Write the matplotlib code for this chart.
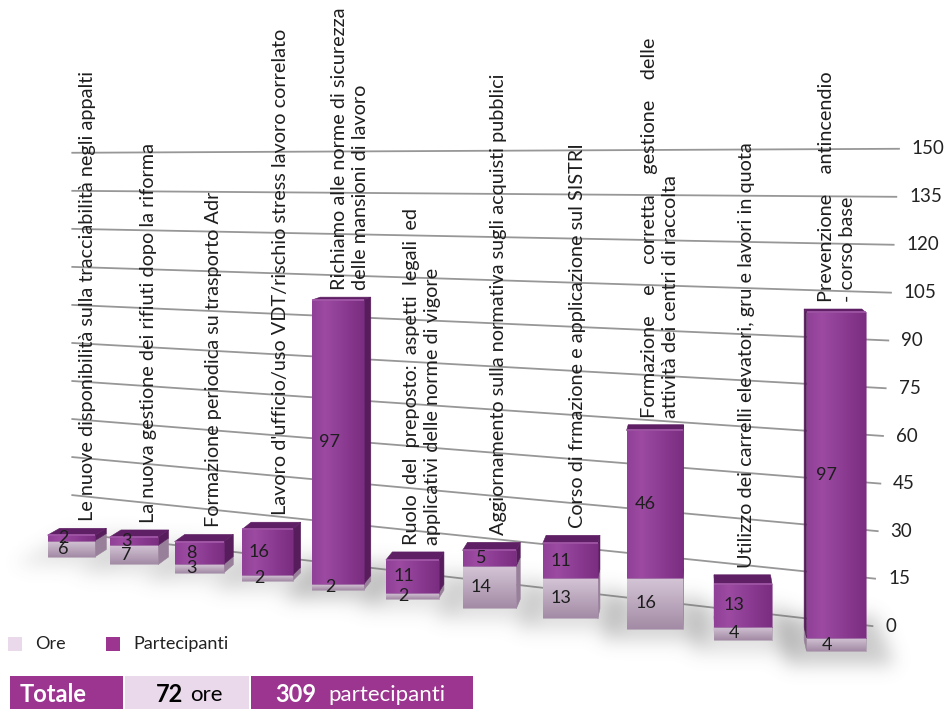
import numpy as np
import matplotlib
matplotlib.use('Agg')
import matplotlib.pyplot as plt
from matplotlib.patches import Polygon, Rectangle
from matplotlib.path import Path

plt.rcParams['font.family'] = ['Lato', 'DejaVu Sans']

# dati dei corsi
corsi = [
    "Le nuove disponibilità sulla tracciabilità negli appalti",
    "La nuova gestione dei rifiuti dopo la riforma",
    "Formazione periodica su trasporto Adr",
    "Lavoro d'ufficio/uso VDT/rischio stress lavoro correlato",
    "Richiamo alle norme di sicurezza\ndelle mansioni di lavoro",
    "Ruolo  del  preposto:  aspetti  legali  ed\napplicativi delle norme di vigore",
    "Aggiornamento sulla normativa sugli acquisti pubblici",
    "Corso di frmazione e applicazione sul SISTRI",
    "Formazione    e    corretta    gestione    delle\nattività dei centri di raccolta",
    "Utilizzo dei carrelli elevatori, gru e lavori in quota",
    "Prevenzione    antincendio\n- corso base",
]
ore = [6, 7, 3, 2, 2, 2, 14, 13, 16, 4, 4]
partecipanti = [2, 3, 8, 16, 97, 11, 5, 11, 46, 13, 97]
tick_valori = list(range(0, 151, 15))
totale_ore = "72"
totale_partecipanti = "309"

# colori
VIOLA_FRONTE = ("#9c4aa2", "#7a2d81")
VIOLA_TOP = "#5e1f64"
VIOLA_LATO = "#561c5b"
ORE_FRONTE = ("#d5c6d7", "#a38ba5")
ORE_LATO = "#98809a"
MAGENTA = "#9c3590"
LILLA = "#ead9ea"
GRIGLIA = "#979797"

# vista prospettica
W, H = 949, 709
CAM_X, CAM_Y, CAM_V = 11.58, -11.0, 144.0
YAW = np.radians(-15.56)
FOC = 1050.0
CX, CY = 700.0, 168.0
ZSCALE = 0.03523
BAR_W, BAR_D = 0.62, 0.26
WALL_Y = 0.714
WALL_X0 = -0.75
ASSE_X = (10.31, 10.60)   # estremo destro della griglia a 0 e a 150

COS, SIN = np.cos(YAW), np.sin(YAW)
DESTRA = np.array([COS, -SIN])    # asse laterale della camera sul piano
AVANTI = np.array([SIN, COS])     # asse di profondità della camera sul piano


def camera(X, Y, V):
    X = np.asarray(X, float)
    Y = np.asarray(Y, float)
    Z = np.asarray(V, float) * ZSCALE
    dx, dy, dz = X - CAM_X, Y - CAM_Y, Z - CAM_V * ZSCALE
    u = dx * COS - dy * SIN
    w = dx * SIN + dy * COS
    return u, w, dz


def proietta(X, Y, V):
    u, w, v = camera(X, Y, V)
    return CX + FOC * u / w, CY - FOC * v / w


def quad(pts):
    xs, ys = proietta(*np.array(pts).T)
    return np.column_stack([xs, ys])


fig = plt.figure(figsize=(W / 100, H / 100), dpi=100)
ax = fig.add_axes([0, 0, 1, 1])
ax.axis('off')

z = [10]


def faccia(poly, colore):
    z[0] += 1
    ax.add_patch(Polygon(poly, closed=True, facecolor=colore, edgecolor=colore,
                         lw=0.4, zorder=z[0]))


def faccia_sfumata(poly, c1, c2, verticale=True):
    z[0] += 1
    p = Polygon(poly, closed=True, facecolor='none', edgecolor=c2, lw=0.4,
                zorder=z[0])
    ax.add_patch(p)
    a = np.array(matplotlib.colors.to_rgb(c1))
    b = np.array(matplotlib.colors.to_rgb(c2))
    t = np.linspace(0, 1, 64)
    if verticale:
        img = (1 - t[:, None, None]) * a + t[:, None, None] * b
    else:
        # riflesso chiaro a sinistra, più scuro verso destra
        t = np.clip(np.abs(t - 0.25) / 0.75, 0, 1)
        img = ((1 - t[:, None]) * a + t[:, None] * b)[None, :, :]
    x0, y0 = poly.min(axis=0)
    x1, y1 = poly.max(axis=0)
    im = ax.imshow(img, extent=(x0, x1, y1, y0), aspect='auto',
                   interpolation='bilinear', zorder=z[0])
    im.set_clip_path(p)


def angolo(i, lat, prof, v):
    # punto della barra i: lat lungo l'asse laterale, prof in profondità
    px, py = np.array([i, 0.0]) + lat * DESTRA + prof * AVANTI
    return (px, py, v)


# griglia sulla parete di fondo
for v in tick_valori:
    x_fine = ASSE_X[0] + (ASSE_X[1] - ASSE_X[0]) * v / tick_valori[-1]
    xs, ys = proietta([WALL_X0, x_fine], [WALL_Y, WALL_Y], [v, v])
    ax.plot(xs, ys, color=GRIGLIA, lw=1.3, zorder=2, solid_capstyle='butt')
    ax.text(xs[1] + 12, ys[1], str(v), fontsize=13.5, color='#222222',
            ha='left', va='center', zorder=3)

# ombra morbida sul pavimento
yy, xx = np.mgrid[0:H, 0:W] + 0.5
griglia_px = np.column_stack([xx.ravel(), yy.ravel()])
ombra = np.zeros(H * W)
for i in range(len(corsi)):
    tot = ore[i] + partecipanti[i]
    forza = 0.35 + 0.35 * min(tot / 100.0, 1.0)
    h = BAR_W / 2 + 0.25
    impronta = quad([angolo(i, -h, -0.3, 0), angolo(i, h, -0.3, 0),
                     angolo(i, h, BAR_D + 0.6, 0), angolo(i, -h, BAR_D + 0.6, 0)])
    ombra += Path(impronta).contains_points(griglia_px) * forza
ombra = ombra.reshape(H, W)


def sfoca(a, sigma):
    r = int(3 * sigma)
    k = np.exp(-0.5 * (np.arange(-r, r + 1) / sigma) ** 2)
    k /= k.sum()
    a = np.apply_along_axis(lambda m: np.convolve(m, k, mode='same'), 0, a)
    a = np.apply_along_axis(lambda m: np.convolve(m, k, mode='same'), 1, a)
    return a


ombra = np.clip(sfoca(ombra, 9), 0, 1)
rgba = np.zeros((H, W, 4))
rgba[..., :3] = 0.42
rgba[..., 3] = ombra * 0.5
ax.imshow(rgba, extent=(0, W, H, 0), zorder=5, interpolation='bilinear')

# barre: dalla più lontana alla più vicina
distanza = [camera(i, 0, 0)[1] for i in range(len(corsi))]
ordine = sorted(range(len(corsi)), key=lambda i: -distanza[i])
a = BAR_W / 2
for i in ordine:
    u_centro = camera(i, 0, 0)[0]
    segmenti = [(0, ore[i], ORE_FRONTE, ORE_LATO, None, True),
                (ore[i], ore[i] + partecipanti[i], VIOLA_FRONTE, VIOLA_LATO, VIOLA_TOP, False)]
    for v0, v1, fronte, lato, top, vert in segmenti:
        if u_centro + a < 0:
            faccia(quad([angolo(i, a, 0, v0), angolo(i, a, BAR_D, v0),
                         angolo(i, a, BAR_D, v1), angolo(i, a, 0, v1)]), lato)
        elif u_centro - a > 0:
            faccia(quad([angolo(i, -a, 0, v0), angolo(i, -a, BAR_D, v0),
                         angolo(i, -a, BAR_D, v1), angolo(i, -a, 0, v1)]), lato)
        faccia_sfumata(quad([angolo(i, -a, 0, v1), angolo(i, a, 0, v1),
                             angolo(i, a, 0, v0), angolo(i, -a, 0, v0)]),
                       fronte[0], fronte[1], vert)
        if top is not None:
            faccia(quad([angolo(i, -a, 0, v1), angolo(i, a, 0, v1),
                         angolo(i, a, BAR_D, v1), angolo(i, -a, BAR_D, v1)]), top)
            # spigolo smussato tra faccia superiore e frontale
            spigolo = quad([angolo(i, -a, 0, v1), angolo(i, a, 0, v1)])
            z[0] += 1
            ax.plot(spigolo[:, 0], spigolo[:, 1], color='#a65aab', lw=1.2,
                    zorder=z[0], solid_capstyle='butt')

    # etichette dei valori
    for v0, val in [(0, ore[i]), (ore[i], partecipanti[i])]:
        lx, ly = proietta(*angolo(i, -0.1, 0, v0 + val / 2))
        ax.text(lx, ly, str(val), fontsize=13, color='#1e1e1e', ha='center',
                va='center', zorder=100)

    # nome del corso sopra la barra
    tx, ty = proietta(*angolo(i, 0, BAR_D, ore[i] + partecipanti[i]))
    ax.annotate(corsi[i], (tx, ty), xytext=(3, 5), textcoords='offset points',
                rotation=90, rotation_mode='anchor', ha='left', va='center',
                multialignment='left', fontsize=14.3, color='#1e1e1e',
                linespacing=1.3, zorder=100)

# legenda
ax.add_patch(Rectangle((8, 637), 14, 14, facecolor=LILLA, edgecolor='none', zorder=100))
ax.text(35, 644, "Ore", fontsize=13, ha='left', va='center', color='#222222')
ax.add_patch(Rectangle((106, 637), 14, 14, facecolor=MAGENTA, edgecolor='none', zorder=100))
ax.text(133, 644, "Partecipanti", fontsize=13, ha='left', va='center', color='#222222')

# riga dei totali
ax.add_patch(Rectangle((10, 676), 113, 40, facecolor=MAGENTA, edgecolor='none', zorder=100))
ax.add_patch(Rectangle((125, 676), 124, 40, facecolor=LILLA, edgecolor='none', zorder=100))
ax.add_patch(Rectangle((251, 676), 222, 40, facecolor=MAGENTA, edgecolor='none', zorder=100))
ax.text(20, 694, "Totale", fontsize=17, fontweight='bold', color='white',
        ha='left', va='center', zorder=101)
ax.text(183, 694, totale_ore, fontsize=17, fontweight='bold', color='black',
        ha='right', va='center', zorder=101)
ax.text(190, 695, "ore", fontsize=16, color='black', ha='left', va='center', zorder=101)
ax.text(316, 694, totale_partecipanti, fontsize=17, fontweight='bold', color='white',
        ha='right', va='center', zorder=101)
ax.text(328, 695, "partecipanti", fontsize=16, color='white', ha='left',
        va='center', zorder=101)

ax.set_xlim(0, W)
ax.set_ylim(H, 0)
fig.savefig('out.png', dpi=100)
